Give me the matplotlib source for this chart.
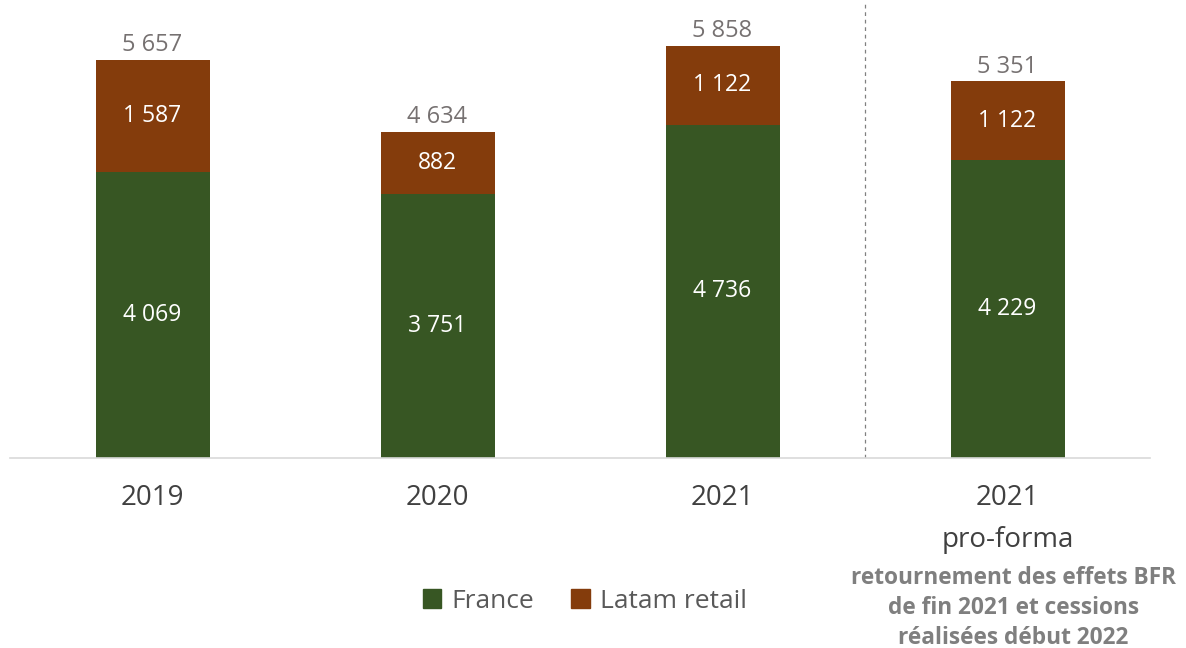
import matplotlib
matplotlib.use("Agg")
import matplotlib.pyplot as plt
from matplotlib.patches import Patch
from matplotlib.transforms import blended_transform_factory

plt.rcParams['font.family'] = ['Open Sans', 'DejaVu Sans']

categories = ["2019", "2020", "2021", "2021"]
france = [4069, 3751, 4736, 4229]
latam = [1587, 882, 1122, 1122]
totals = [5657, 4634, 5858, 5351]
subtitle = "pro-forma"
note = "retournement des effets BFR\nde fin 2021 et cessions\nréalisées début 2022"

def fmt(v):
    return f"{v:,}".replace(",", " ")

GREEN = "#375623"
BROWN = "#843C0C"
GREY_TXT = "#767171"
DARK = "#404040"

fig = plt.figure(figsize=(11.86, 6.48), dpi=100)
ax = fig.add_axes([10/1186, (648-458)/648, 1140/1186, 457/648])
x = list(range(len(categories)))
w = 0.4
ax.bar(x, france, width=w, color=GREEN, label="France")
ax.bar(x, latam, width=w, bottom=france, color=BROWN, label="Latam retail")

for i in x:
    ax.text(i, france[i] / 2, fmt(france[i]), ha="center", va="center",
            color="white", fontsize=16.5)
    ax.text(i, france[i] + latam[i] / 2, fmt(latam[i]), ha="center", va="center",
            color="white", fontsize=16.5)
    ax.text(i, totals[i] + 40, fmt(totals[i]), ha="center", va="bottom",
            color=GREY_TXT, fontsize=17)

ax.set_xlim(-0.5, 3.5)
ax.set_ylim(0, 6495)
ax.axvline(2.5, color="#808080", linestyle=(0, (3, 3)), linewidth=0.9)
for s in ["top", "right", "left"]:
    ax.spines[s].set_visible(False)
ax.spines["bottom"].set_color("#D9D9D9")
ax.spines["bottom"].set_linewidth(1.2)
ax.set_yticks([])
ax.set_xticks([])

tr = blended_transform_factory(ax.transData, fig.transFigure)
for i, c in enumerate(categories):
    ax.text(i, 1 - 498/648, c, transform=tr, ha="center", va="center",
            color=DARK, fontsize=20)
ax.text(3, 1 - 540/648, subtitle, transform=tr, ha="center", va="center",
        color=DARK, fontsize=20)
ax.text(3.02, 1 - 608/648, note, transform=tr, ha="center", va="center",
        color="#7F7F7F", fontsize=16.3, fontweight="bold", linespacing=1.33)

handles = [Patch(color=GREEN, label="France"), Patch(color=BROWN, label="Latam retail")]
fig.legend(handles=handles, loc="center", bbox_to_anchor=(585/1186, 1 - 601/648),
           ncol=2, frameon=False, fontsize=19, labelcolor="#595959",
           handlelength=0.7, handleheight=0.7, handletextpad=0.4, columnspacing=1.4)

fig.savefig("out.png", dpi=100)
